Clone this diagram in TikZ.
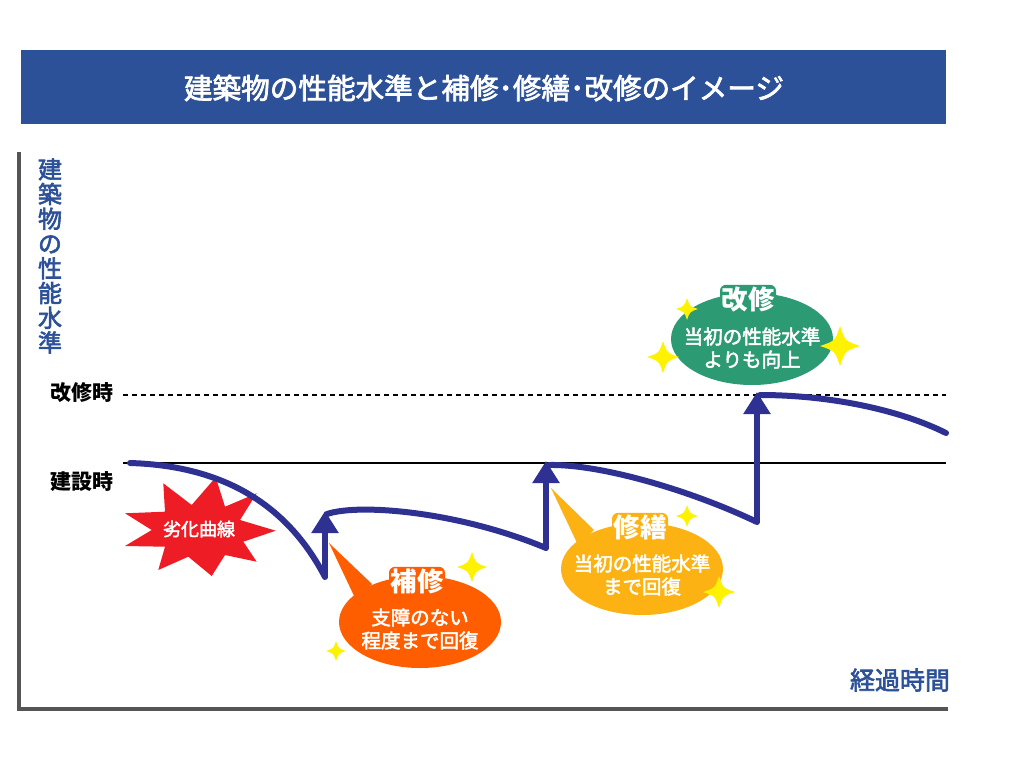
\documentclass[tikz,border=0pt]{standalone}
\usepackage{fontspec}
\setmainfont{Noto Sans CJK JP}
\newfontfamily\medfont{Noto Sans CJK JP}[FakeBold=2.5]
\usetikzlibrary{arrows.meta,shapes.geometric}
\definecolor{titleblue}{HTML}{2C5198}
\definecolor{curveblue}{HTML}{2E3192}
\definecolor{axisgray}{HTML}{555555}
\definecolor{burstred}{HTML}{EE1C25}
\definecolor{hoshuorange}{HTML}{FF5E00}
\definecolor{shuzenamber}{HTML}{FDB213}
\definecolor{kaishugreen}{HTML}{2C9A73}
\definecolor{sparkyellow}{HTML}{FFF200}
\tikzset{
  curveline/.style={draw=curveblue, line width=6pt, line cap=round, line join=round},
  uparrow/.style={draw=curveblue, line width=6pt, -{Triangle[width=26pt,length=22pt]}},
  bubble/.style={ellipse, minimum width=162pt, minimum height=92pt, inner sep=0pt},
  bubtitle/.style={text=white, font=\bfseries\fontsize{26.5}{30}\selectfont, inner sep=1.5pt, rounded corners=6pt},
  bubbody/.style={text=white, align=center, font=\medfont\fontsize{19.5}{23}\selectfont},
  levellabel/.style={font=\bfseries\fontsize{21}{22}\selectfont, text=black},
  bluelabel/.style={text=titleblue, font=\medfont\fontsize{24}{24.75}\selectfont},
  pics/sparkle/.style={code={
    \fill[sparkyellow] (0,-1) .. controls (0.25,-0.25) .. (1,0) .. controls (0.25,0.25) .. (0,1)
      .. controls (-0.25,0.25) .. (-1,0) .. controls (-0.25,-0.25) .. (0,-1) -- cycle;}}
}
\begin{document}
\begin{tikzpicture}[x=1pt,y=-1pt]
\useasboundingbox[fill=white] (0,0) rectangle (1024,768);

% title bar
\node[fill=titleblue, minimum width=925pt, minimum height=74pt, inner sep=0pt] (titlebar) at (483.5,87) {};
\node[text=white, font=\medfont\fontsize{28.6}{32}\selectfont] (titletext) at (484,88) {建築物の性能水準と補修･修繕･改修のイメージ};

% axes
\coordinate (axtop) at (19,152);
\coordinate (axorigin) at (19,709);
\coordinate (axright) at (948,709);
\draw[axisgray, line width=4.5pt] (axtop) -- (axorigin) -- (axright);

% axis labels
\node[bluelabel, align=center] (ylabel) at (50,256) {建\\築\\物\\の\\性\\能\\水\\準};
\node[bluelabel, font=\medfont\fontsize{25}{26}\selectfont] (xlabel) at (900,680) {経過時間};

% level lines
\node[levellabel] (kaishuji) at (81.5,393) {改修時};
\node[levellabel] (kensetsuji) at (81.5,482) {建設時};
\coordinate (dashL) at (123,395);
\coordinate (dashR) at (946,395);
\coordinate (solidL) at (123,463);
\coordinate (solidR) at (946,463);
\draw[black, line width=1.5pt, dash pattern=on 5pt off 4pt] (dashL) -- (dashR);
\draw[black, line width=2pt] (solidL) -- (solidR);

% deterioration burst
\fill[burstred] (163.3,483.3) -- (191.7,505) -- (215.7,477.3) -- (225,506.7) -- (256.7,493.3)
  -- (240,520) -- (275.7,530.7) -- (243.3,541.7) -- (256.7,561.7) -- (225,555) -- (211.7,576)
  -- (188.3,556.7) -- (158.3,570) -- (165,546.7) -- (125,546) -- (151.7,530) -- (125,513.3)
  -- (165,511.7) -- cycle;
\node[text=white, font=\medfont\fontsize{18}{20}\selectfont] (burstlabel) at (199,529) {劣化曲線};

% performance curve
\coordinate (c1s) at (130,463);
\coordinate (c1e) at (325,577);
\coordinate (a1t) at (325,511);
\coordinate (c2s) at (327,514);
\coordinate (c2e) at (546,548);
\coordinate (a2t) at (546,461);
\coordinate (c3s) at (549,465);
\coordinate (c3e) at (757,522);
\coordinate (a3t) at (757,392);
\coordinate (c4s) at (760,395);
\coordinate (c4e) at (946,433);

\draw[curveline] (c1s) .. controls (230,466) and (290,510) .. (c1e);
\draw[uparrow] (c1e) -- (a1t);
\draw[curveline] (c2s) .. controls (360,503) and (460,512) .. (c2e);
\draw[uparrow] (c2e) -- (a2t);
\draw[curveline] (c3s) .. controls (600,464) and (690,490) .. (c3e);
\draw[uparrow] (c3e) -- (a3t);
\draw[curveline] (c4s) .. controls (830,395) and (900,410) .. (c4e);

% bubble 補修
\coordinate (t1tip) at (329,543);
\fill[hoshuorange] (t1tip) -- (372,584) -- (356,600) -- cycle;
\node[bubble, fill=hoshuorange] (hoshu) at (420,622) {};
\node[bubtitle, fill=hoshuorange] (hoshutitle) at (417,581) {補修};
\node[bubbody] (hoshubody) at (420,629) {支障のない\\程度まで回復};

% bubble 修繕
\coordinate (t2tip) at (551,488);
\fill[shuzenamber] (t2tip) -- (594,530) -- (578,545) -- cycle;
\node[bubble, fill=shuzenamber] (shuzen) at (642,569) {};
\node[bubtitle, fill=shuzenamber] (shuzentitle) at (640,527) {修繕};
\node[bubbody] (shuzenbody) at (642,575) {当初の性能水準\\まで回復};

% bubble 改修
\node[bubble, fill=kaishugreen] (kaishu) at (752,339) {};
\node[bubtitle, fill=kaishugreen] (kaishutitle) at (748,299) {改修};
\node[bubbody] (kaishubody) at (752,348) {当初の性能水準\\よりも向上};

% sparkles
\pic[scale=15] at (472,567) {sparkle};
\pic[scale=10] at (336,651) {sparkle};
\pic[scale=11] at (687,516) {sparkle};
\pic[scale=16] at (719,592) {sparkle};
\pic[scale=11] at (687,309) {sparkle};
\pic[scale=16] at (663,357) {sparkle};
\pic[scale=20] at (840,346) {sparkle};
\end{tikzpicture}
\end{document}
